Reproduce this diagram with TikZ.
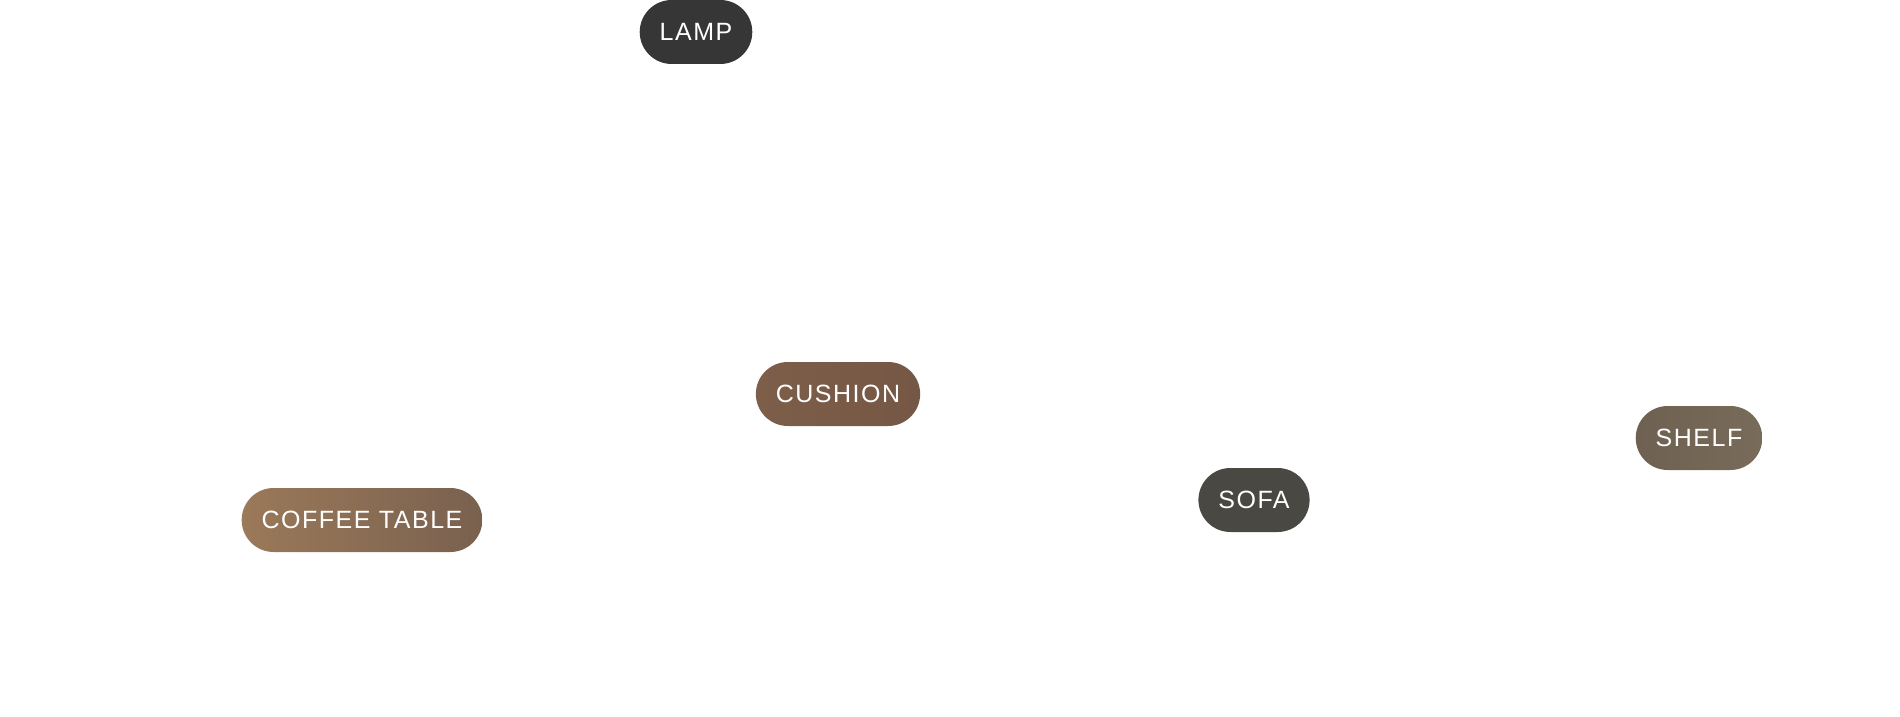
\documentclass[tikz,border=0pt]{standalone}
\usepackage{fontspec}
\newfontfamily\pillfont{Liberation Sans}[LetterSpace=6]
\definecolor{lampgray}{HTML}{363636}
\definecolor{sofagray}{HTML}{4A4843}
\definecolor{cushionleft}{HTML}{7D5E49}
\definecolor{cushionright}{HTML}{755745}
\definecolor{tableleft}{HTML}{9B7959}
\definecolor{tableright}{HTML}{79614F}
\definecolor{shelfleft}{HTML}{6E6151}
\definecolor{shelfright}{HTML}{796B59}
\tikzset{
  pill/.style={rectangle, rounded corners=32pt, minimum height=64pt,
    inner xsep=20pt, inner ysep=0pt, text=white, yshift=-1pt,
    font=\pillfont\fontsize{25}{29}\selectfont}
}
\begin{document}
\begin{tikzpicture}[x=1pt,y=1pt]
            \useasboundingbox (0,0) rectangle (1900,716);
            \node (lamp) [pill, fill=lampgray] at (696,685) {LAMP};
            \node (cushion) [pill, left color=cushionleft, right color=cushionright] at (838,323) {CUSHION};
            \node (table) [pill, left color=tableleft, right color=tableright] at (362,197) {COFFEE TABLE};
            \node (sofa) [pill, fill=sofagray] at (1254,217) {SOFA};
            \node (shelf) [pill, left color=shelfleft, right color=shelfright] at (1699,279) {SHELF};
        \end{tikzpicture}
\end{document}
